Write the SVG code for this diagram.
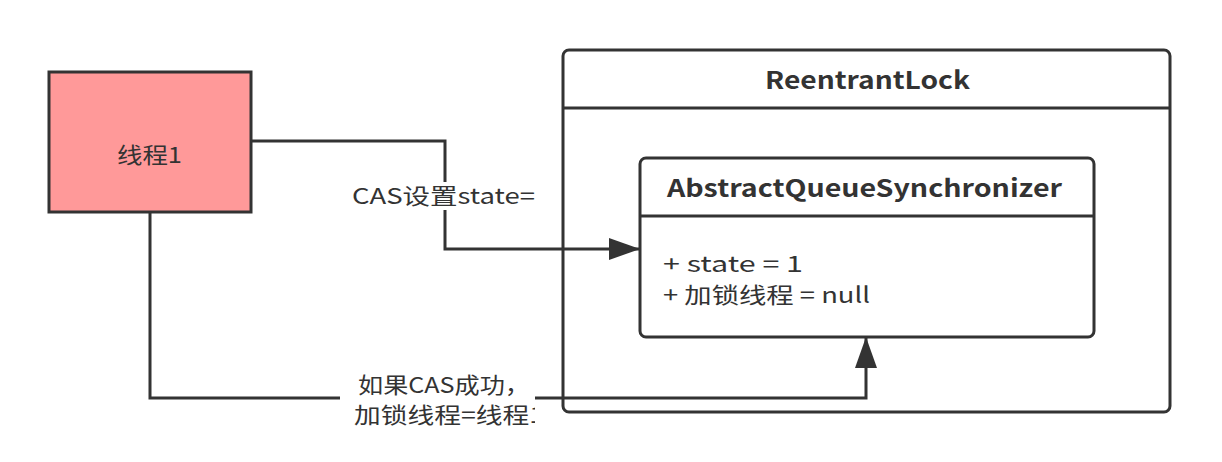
<svg xmlns="http://www.w3.org/2000/svg" width="1222" height="462" viewBox="0 0 1222 462">
<style>
.t{font-family:"Noto Sans CJK SC","Noto Sans",sans-serif;font-size:22px;fill:#333}
.b{font-weight:bold;font-size:24px}
.line{fill:none;stroke:#333;stroke-width:3}
.box{stroke:#333;stroke-width:3}
</style>
<defs>
<marker id="arr" viewBox="0 0 31 22" refX="31" refY="11" markerWidth="31" markerHeight="22" markerUnits="userSpaceOnUse" orient="auto">
<path d="M0,0 L31,11 L0,22 Z" fill="#333"/>
</marker>
<clipPath id="clipLbl"><rect x="340" y="368" width="195" height="70"/></clipPath>
</defs>
<rect width="1222" height="462" fill="#fff"/>
<g id="reentrantlock">
<rect class="box" x="563" y="50" width="607" height="362" rx="6" fill="#fff"/>
<line class="line" x1="563" y1="108" x2="1170" y2="108"/>
<text class="t b" x="765" y="89" textLength="205" lengthAdjust="spacingAndGlyphs">ReentrantLock</text>
</g>
<g id="aqs">
<rect class="box" x="640" y="158" width="454" height="179" rx="6" fill="#fff"/>
<line class="line" x1="640" y1="216" x2="1094" y2="216"/>
<text class="t b" x="667" y="197" textLength="395" lengthAdjust="spacingAndGlyphs">AbstractQueueSynchronizer</text>
<text class="t" x="663" y="272" textLength="140" lengthAdjust="spacingAndGlyphs">+ state = 1</text>
<text class="t" x="663" y="303" textLength="207" lengthAdjust="spacingAndGlyphs">+ 加锁线程 = null</text>
</g>
<g id="thread1">
<rect class="box" x="49" y="72" width="202" height="140" fill="#FF9999"/>
<text class="t" x="117" y="163" textLength="65" lengthAdjust="spacingAndGlyphs">线程1</text>
</g>
<g id="connectors">
<polyline class="line" points="251,141 445,141 445,249 640,249" marker-end="url(#arr)"/>
<polyline class="line" points="150,212 150,398 866,398 866,337" marker-end="url(#arr)"/>
<rect x="340" y="182" width="205" height="28" fill="#fff"/>
<text class="t" x="352" y="204" textLength="183" lengthAdjust="spacingAndGlyphs">CAS设置state=</text>
<g clip-path="url(#clipLbl)">
<rect x="340" y="370" width="195" height="62" fill="#fff"/>
<text class="t" x="358" y="393" textLength="172" lengthAdjust="spacingAndGlyphs">如果CAS成功，</text>
<text class="t" x="354" y="423" textLength="190" lengthAdjust="spacingAndGlyphs">加锁线程=线程1</text>
</g>
</g>
</svg>
